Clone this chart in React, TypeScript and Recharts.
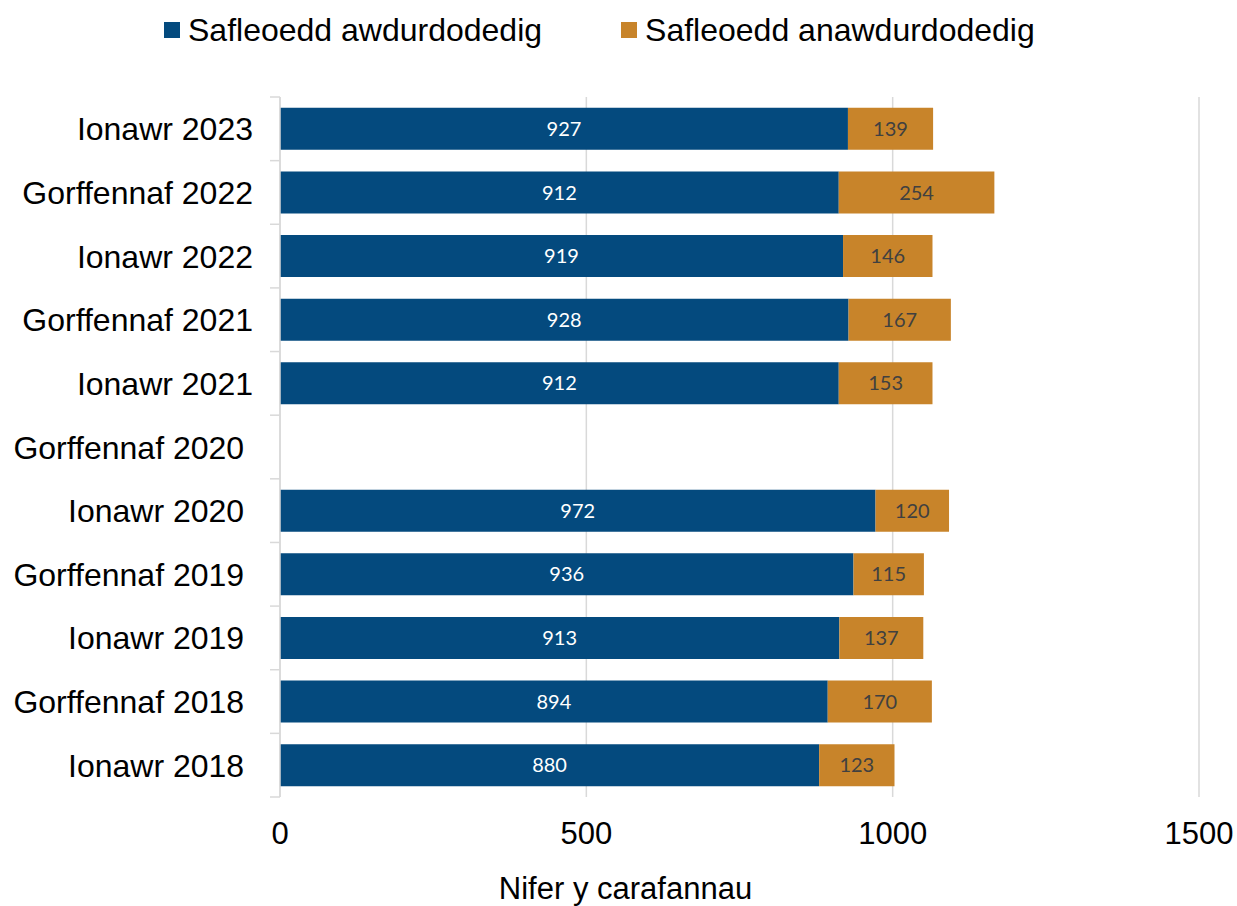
import React from 'react'
import { BarChart, Bar, XAxis, YAxis, CartesianGrid, Legend, LabelList } from 'recharts'

// categories top to bottom; trailing nbsp keeps the lower labels shifted like the original
const periods = [
  'Ionawr 2023',
  'Gorffennaf 2022',
  'Ionawr 2022',
  'Gorffennaf 2021',
  'Ionawr 2021',
  'Gorffennaf 2020\u00a0',
  'Ionawr 2020\u00a0',
  'Gorffennaf 2019\u00a0',
  'Ionawr 2019\u00a0',
  'Gorffennaf 2018\u00a0',
  'Ionawr 2018\u00a0',
]
const authorised = [927, 912, 919, 928, 912, null, 972, 936, 913, 894, 880]
const unauthorised = [139, 254, 146, 167, 153, null, 120, 115, 137, 170, 123]
const xTicks = [0, 500, 1000, 1500]

const seriesNames = ['Safleoedd awdurdodedig', 'Safleoedd anawdurdodedig']
const axisTitle = 'Nifer y carafannau'

const W = 1237
const H = 906
const TOP = 97
const BOTTOM = 797
const PLOT_H = BOTTOM - TOP
const TICK_GAP = 27
const BLUE = '#044a7e'
const ORANGE = '#c8842a'
const GRID = '#d9d9d9'
const FONT = '"Liberation Sans", Arial, sans-serif'

const data = periods.map((p, i) => ({
  period: p,
  authorised: authorised[i],
  unauthorised: unauthorised[i],
}))

const CategoryTick = (props: any) => {
  const { x, y, payload, index } = props
  const band = PLOT_H / periods.length
  const axisX = x + TICK_GAP
  return (
    <g>
      <line x1={axisX - 10} x2={axisX} y1={y - band / 2} y2={y - band / 2} stroke={GRID} strokeWidth={1.5} />
      {index === periods.length - 1 && (
        <line x1={axisX - 10} x2={axisX} y1={y + band / 2} y2={y + band / 2} stroke={GRID} strokeWidth={1.5} />
      )}
      <text x={x} y={y} dy="0.36em" textAnchor="end" fontSize={32} fontFamily={FONT} fill="#000">
        {payload.value}
      </text>
    </g>
  )
}

// vertical layout flips the legend payload, so put it back in series order
const renderLegend = ({ payload }: any) => {
  const items = [...payload].sort((a: any, b: any) => seriesNames.indexOf(a.value) - seriesNames.indexOf(b.value))
  return (
    <div style={{ display: 'flex', alignItems: 'center', height: 60, paddingLeft: 164, fontFamily: FONT, fontSize: 32, color: '#000' }}>
      {items.map((p: any) => (
        <div key={p.value} style={{ display: 'flex', alignItems: 'center', marginRight: 79 }}>
          <span style={{ display: 'inline-block', width: 16, height: 16, background: p.color, marginRight: 8 }} />
          <span>{p.value}</span>
        </div>
      ))}
    </div>
  )
}

export default function App() {
  return (
    <div style={{ position: 'absolute', left: 0, top: 0, width: W, height: H, background: '#fff' }}>
      <BarChart
        width={W}
        height={H}
        data={data}
        layout="vertical"
        margin={{ top: TOP, right: 38, bottom: 49, left: 0 }}
        barCategoryGap="17%"
      >
        <CartesianGrid horizontal={false} stroke={GRID} strokeWidth={1.5} />
        <XAxis
          type="number"
          domain={[0, 1500]}
          ticks={xTicks}
          axisLine={false}
          tickLine={false}
          tickSize={0}
          tickMargin={25}
          height={60}
          tick={{ fill: '#000', fontSize: 31, fontFamily: FONT }}
          label={{
            content: ({ viewBox }: any) => (
              <text
                x={viewBox.x + viewBox.width / 2 - 114}
                y={viewBox.y + viewBox.height + 42}
                textAnchor="middle"
                fontSize={31}
                fontFamily={FONT}
                fill="#000"
              >
                {axisTitle}
              </text>
            ),
          }}
        />
        <YAxis
          type="category"
          dataKey="period"
          width={280}
          axisLine={{ stroke: GRID, strokeWidth: 1.5 }}
          tickLine={false}
          tickSize={0}
          tickMargin={TICK_GAP}
          interval={0}
          tick={<CategoryTick />}
        />
        <Legend verticalAlign="middle" layout="horizontal" content={renderLegend} wrapperStyle={{ top: 0, left: 0, width: W }} />
        <Bar dataKey="authorised" name={seriesNames[0]} stackId="a" fill={BLUE} isAnimationActive={false}>
          <LabelList dataKey="authorised" position="center" fill="#fff" fontSize={20} fontFamily="Lato, sans-serif" />
        </Bar>
        <Bar dataKey="unauthorised" name={seriesNames[1]} stackId="a" fill={ORANGE} isAnimationActive={false}>
          <LabelList dataKey="unauthorised" position="center" fill="#404040" fontSize={20} fontFamily="Lato, sans-serif" />
        </Bar>
      </BarChart>
    </div>
  )
}
